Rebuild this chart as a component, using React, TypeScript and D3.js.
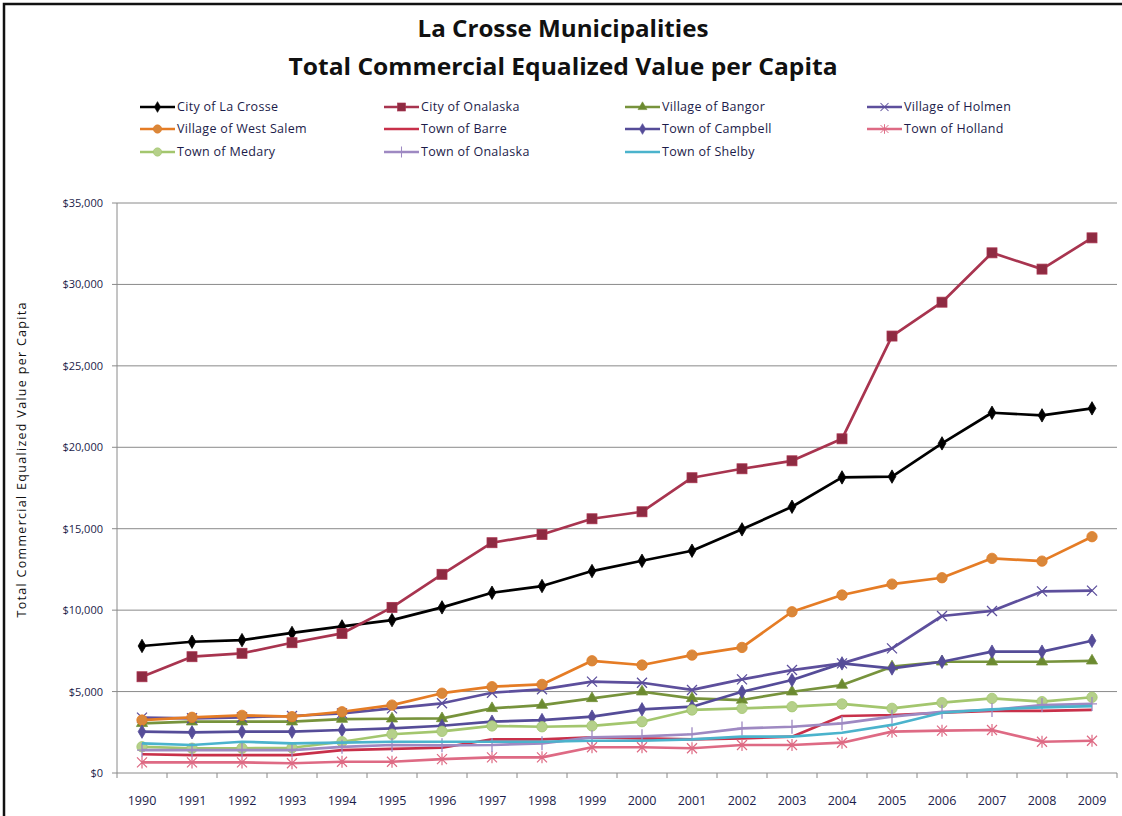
import React from 'react';
import * as d3 from 'd3';

// ── Data ──────────────────────────────────────────────────────────────────────
const YEARS = ['1990', '1991', '1992', '1993', '1994', '1995', '1996', '1997', '1998', '1999',
  '2000', '2001', '2002', '2003', '2004', '2005', '2006', '2007', '2008', '2009'];

const Y_TICKS = [0, 5000, 10000, 15000, 20000, 25000, 30000, 35000];

const laCrosse = [7800, 8060, 8160, 8600, 9000, 9390, 10170, 11070, 11480, 12400, 13030, 13650, 14960, 16350, 18150, 18200, 20240, 22120, 21960, 22390];
const cityOnalaska = [5910, 7140, 7350, 8000, 8570, 10170, 12200, 14140, 14650, 15610, 16040, 18130, 18680, 19170, 20520, 26830, 28910, 31940, 30940, 32860];
const bangor = [3050, 3150, 3150, 3150, 3310, 3330, 3350, 3970, 4170, 4580, 4990, 4580, 4480, 4990, 5400, 6530, 6830, 6830, 6830, 6890];
const holmen = [3400, 3360, 3420, 3500, 3660, 3970, 4280, 4930, 5140, 5610, 5540, 5100, 5750, 6320, 6730, 7650, 9640, 9950, 11150, 11200];
const westSalem = [3250, 3420, 3540, 3460, 3760, 4170, 4900, 5300, 5440, 6890, 6630, 7240, 7710, 9900, 10930, 11600, 11990, 13180, 13010, 14510];
const barre = [1150, 1100, 1100, 1100, 1410, 1480, 1550, 2070, 2070, 2190, 2130, 2070, 2130, 2230, 3500, 3560, 3700, 3820, 3820, 3870];
const campbell = [2540, 2500, 2540, 2540, 2640, 2740, 2900, 3150, 3250, 3460, 3910, 4070, 4990, 5710, 6730, 6420, 6830, 7450, 7450, 8120];
const holland = [650, 650, 650, 600, 690, 690, 850, 960, 960, 1580, 1580, 1520, 1720, 1720, 1860, 2540, 2600, 2640, 1920, 1980];
const medary = [1610, 1520, 1520, 1550, 1920, 2380, 2560, 2890, 2840, 2890, 3150, 3870, 3970, 4070, 4240, 3970, 4320, 4580, 4380, 4650];
const townOnalaska = [1410, 1410, 1410, 1410, 1610, 1720, 1700, 1720, 1820, 2190, 2250, 2380, 2740, 2840, 3050, 3460, 3760, 3870, 4170, 4240];
const shelby = [1820, 1720, 1920, 1820, 1870, 1920, 1920, 1920, 1920, 1980, 1980, 2070, 2230, 2230, 2470, 2950, 3700, 3910, 4030, 4110];

type Marker = 'diamond' | 'square' | 'triangle' | 'x' | 'circle' | 'none' | 'star' | 'plus';

interface Series {
  name: string;
  values: number[];
  color: string;
  fill: string;
  marker: Marker;
}

const SERIES: Series[] = [
  { name: 'City of La Crosse', values: laCrosse, color: '#000000', fill: '#000000', marker: 'diamond' },
  { name: 'City of Onalaska', values: cityOnalaska, color: '#a8344f', fill: '#8e2b42', marker: 'square' },
  { name: 'Village of Bangor', values: bangor, color: '#77933c', fill: '#6b8a30', marker: 'triangle' },
  { name: 'Village of Holmen', values: holmen, color: '#5d4f9c', fill: '#5d4f9c', marker: 'x' },
  { name: 'Village of West Salem', values: westSalem, color: '#e57c25', fill: '#d9873a', marker: 'circle' },
  { name: 'Town of Barre', values: barre, color: '#c8304a', fill: '#c8304a', marker: 'none' },
  { name: 'Town of Campbell', values: campbell, color: '#554c98', fill: '#554c98', marker: 'diamond' },
  { name: 'Town of Holland', values: holland, color: '#de6a84', fill: '#de6a84', marker: 'star' },
  { name: 'Town of Medary', values: medary, color: '#a3c66e', fill: '#b5d08a', marker: 'circle' },
  { name: 'Town of Onalaska', values: townOnalaska, color: '#9e89c2', fill: '#8c78b2', marker: 'plus' },
  { name: 'Town of Shelby', values: shelby, color: '#4bb3cc', fill: '#4bb3cc', marker: 'none' },
];

// ── Layout ────────────────────────────────────────────────────────────────────
const W = 1122;
const H = 816;
const PLOT = { left: 117, right: 1117, top: 203, bottom: 773 };
const FONT = '"Open Sans", "Noto Sans", sans-serif';
const TEXT_COLOR = '#1c1c4a';

const x = d3.scalePoint<string>().domain(YEARS).range([PLOT.left, PLOT.right]).padding(0.5);
const y = d3.scaleLinear().domain([0, 35000]).range([PLOT.bottom, PLOT.top]);
const fmt = d3.format('$,');

const lineGen = d3.line<number>()
  .x((_, i) => x(YEARS[i]) as number)
  .y(d => y(d));

function MarkerShape({ s, cx, cy }: { s: Series; cx: number; cy: number }) {
  const t = `translate(${cx},${cy})`;
  switch (s.marker) {
    case 'diamond':
      return <path transform={t} d={d3.symbol(d3.symbolDiamond, 52)()!} fill={s.fill} stroke={s.color} strokeWidth={0.8} />;
    case 'square':
      return <rect x={cx - 5} y={cy - 5} width={10} height={10} fill={s.fill} stroke={s.color} strokeWidth={0.8} />;
    case 'triangle':
      return <path transform={t} d={d3.symbol(d3.symbolTriangle, 54)()!} fill={s.fill} stroke={s.color} strokeWidth={0.8} />;
    case 'circle':
      return <circle cx={cx} cy={cy} r={5.2} fill={s.fill} stroke={s.color} strokeWidth={0.8} />;
    case 'x':
      return <path transform={t} d="M-5,-5L5,5M-5,5L5,-5" stroke={s.color} strokeWidth={1.3} fill="none" />;
    case 'star':
      return <path transform={t} d="M-5,-5L5,5M-5,5L5,-5M0,-6L0,6" stroke={s.color} strokeWidth={1.2} fill="none" />;
    case 'plus':
      return <path transform={t} d="M0,-7L0,7M-5,0L5,0" stroke={s.color} strokeWidth={1.3} fill="none" />;
    default:
      return null;
  }
}

const LEGEND_COLS = [140, 384, 625, 867];
const LEGEND_ROWS = [107, 129, 152];

export default function App() {
  return (
    <svg width={W} height={H} style={{ position: 'absolute', left: 0, top: 0, background: '#fff' }} fontFamily={FONT}>
      <rect x={0} y={0} width={W} height={H} fill="#fff" />
      {/* frame */}
      <path d={`M4,${H + 5}L4,4L${W + 5},4`} fill="none" stroke="#111" strokeWidth={2.5} />

      {/* title */}
      <text x={563} y={37} textAnchor="middle" fontSize={24} fontWeight={700} fill="#111" textLength={291} lengthAdjust="spacingAndGlyphs">La Crosse Municipalities</text>
      <text x={563} y={75} textAnchor="middle" fontSize={24} fontWeight={700} fill="#111" textLength={549} lengthAdjust="spacingAndGlyphs">Total Commercial Equalized Value per Capita</text>

      {/* legend */}
      {SERIES.map((s, i) => {
        const lx = LEGEND_COLS[i % 4];
        const ly = LEGEND_ROWS[Math.floor(i / 4)];
        return (
          <g key={s.name}>
            <line x1={lx} x2={lx + 35} y1={ly} y2={ly} stroke={s.color} strokeWidth={2.5} />
            <g transform={`translate(${lx + 17.5},${ly}) scale(0.8) translate(${-(lx + 17.5)},${-ly})`}>
              <MarkerShape s={s} cx={lx + 17.5} cy={ly} />
            </g>
            <text x={lx + 37} y={ly + 4} fontSize={12.5} fill={TEXT_COLOR} letterSpacing={0.3}>{s.name}</text>
          </g>
        );
      })}

      {/* gridlines + y ticks */}
      {Y_TICKS.map(t => (
        <g key={t}>
          {t > 0 && <line x1={PLOT.left} x2={PLOT.right} y1={y(t)} y2={y(t)} stroke="#8a8a8a" strokeWidth={1} />}
          <line x1={PLOT.left - 5} x2={PLOT.left} y1={y(t)} y2={y(t)} stroke="#8a8a8a" strokeWidth={1} />
          <text x={103} y={y(t) + 4} textAnchor="end" fontSize={11} fill={TEXT_COLOR}>{fmt(t)}</text>
        </g>
      ))}

      {/* axes */}
      <line x1={PLOT.left} x2={PLOT.left} y1={PLOT.top} y2={PLOT.bottom} stroke="#8a8a8a" strokeWidth={1} />
      <line x1={PLOT.left} x2={PLOT.right} y1={PLOT.bottom} y2={PLOT.bottom} stroke="#8a8a8a" strokeWidth={1} />
      {d3.range(YEARS.length + 1).map(k => {
        const tx = PLOT.left + k * x.step();
        return <line key={k} x1={tx} x2={tx} y1={PLOT.bottom} y2={PLOT.bottom + 5} stroke="#8a8a8a" strokeWidth={1} />;
      })}
      {YEARS.map(yr => (
        <text key={yr} x={x(yr)} y={805} textAnchor="middle" fontSize={12.5} fill={TEXT_COLOR}>{yr}</text>
      ))}

      {/* y axis title */}
      <text transform="translate(26,460) rotate(-90)" textAnchor="middle" fontSize={12.5} fill="#111"
        textLength={315} lengthAdjust="spacing">
        Total Commercial  Equalized  Value  per Capita
      </text>

      {/* series */}
      {SERIES.map(s => (
        <g key={s.name}>
          <path d={lineGen(s.values)!} fill="none" stroke={s.color} strokeWidth={2.7} strokeLinejoin="round" />
          {s.values.map((v, i) => (
            <MarkerShape key={i} s={s} cx={x(YEARS[i]) as number} cy={y(v)} />
          ))}
        </g>
      ))}
    </svg>
  );
}
